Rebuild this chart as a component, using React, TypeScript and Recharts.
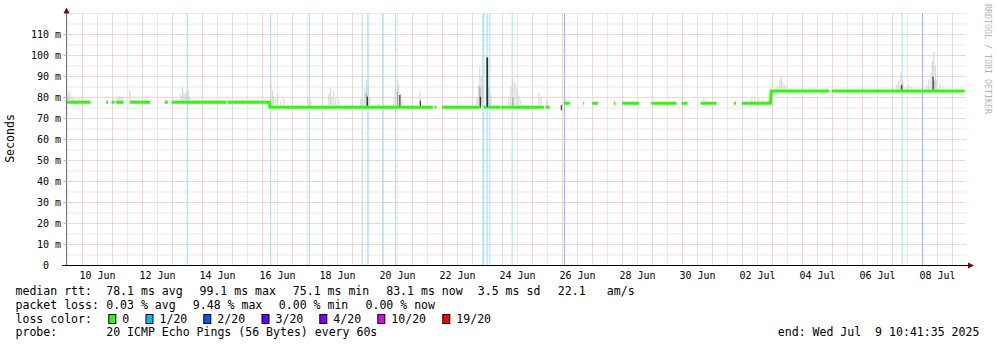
import React from "react";
import {
  ComposedChart,
  Line,
  XAxis,
  YAxis,
  CartesianGrid,
  ReferenceLine,
} from "recharts";

// time = days since 1 Jun 2025 00:00
const timeDomain: [number, number] = [8.4667, 38.4667];

const dayLabelTicks = [9.5, 11.5, 13.5, 15.5, 17.5, 19.5, 21.5, 23.5, 25.5, 27.5, 29.5, 31.5, 33.5, 35.5, 37.5];
const dayLabels = ["10 Jun", "12 Jun", "14 Jun", "16 Jun", "18 Jun", "20 Jun", "22 Jun", "24 Jun", "26 Jun", "28 Jun", "30 Jun", "02 Jul", "04 Jul", "06 Jul", "08 Jul"];
const rttTicks = [0, 10, 20, 30, 40, 50, 60, 70, 80, 90, 100, 110];

// median rtt (ms) held over [start, end]
const medianSegments: [number, number, number][] = [
  [8.469, 9.269, 77.7], [9.789, 9.855, 77.7], [9.969, 10.069, 77.7], [10.122, 10.369, 77.7],
  [10.579, 11.245, 77.7], [11.745, 11.845, 77.7], [11.969, 13.802, 77.7], [13.845, 15.235, 77.7],
  [15.245, 20.679, 75.3], [20.745, 20.802, 75.3], [20.988, 22.268, 75.3], [22.379, 22.479, 75.3],
  [22.522, 22.935, 75.3], [22.968, 24.379, 75.3], [24.435, 24.569, 75.3],
  [25.045, 25.245, 77.3], [25.689, 25.722, 77.3], [25.989, 26.179, 77.3], [26.712, 26.768, 77.3],
  [26.988, 27.545, 77.3], [27.955, 28.802, 77.3], [28.968, 29.168, 77.3], [29.602, 30.135, 77.3],
  [30.712, 30.779, 77.3], [30.979, 31.935, 77.3],
  [31.955, 33.879, 83.1], [33.969, 38.402, 83.1],
];

// smoke: [time, low, high]
const smokeLight: [number, number, number][] = [
  [8.479, 78.4, 83.6], [8.529, 78.4, 81.5], [8.579, 78.4, 82.8], [8.645, 78.4, 80.5], [8.712, 78.4, 79.8], [8.812, 78.4, 79.2], [8.912, 78.4, 79.5], [9.012, 78.4, 78.9],
  [10.179, 78.4, 80.2], [10.245, 78.4, 81.0], [10.312, 78.4, 80.4], [10.579, 78.4, 83.5],
  [12.279, 78.4, 81.5], [12.329, 78.4, 84.8], [12.379, 78.4, 82.5], [12.429, 78.4, 81.8], [12.479, 78.4, 82.6], [12.529, 78.4, 83.6], [12.579, 78.4, 80.5],
  [15.279, 76, 86.8], [15.329, 76, 83.5], [15.379, 76, 81], [15.445, 76, 79.5], [15.512, 76, 81.5], [15.612, 76, 78.5], [15.712, 76, 79.8], [16.212, 76, 77],
  [16.512, 76, 80], [16.562, 76, 82], [16.612, 76, 78.5],
  [17.212, 76, 82], [17.262, 76, 84.4], [17.312, 76, 80.5], [17.379, 76, 82.8], [17.445, 76, 79.5], [17.545, 76, 78.8],
  [18.279, 76, 79.5], [18.345, 76, 80.5], [18.412, 76, 84.5], [18.462, 76, 88.3], [18.529, 76, 85.5], [18.579, 76, 80], [18.879, 76, 77.5],
  [19.379, 76, 80], [19.445, 76, 84.5], [19.495, 76, 88.3], [19.545, 76, 86], [19.612, 76, 82], [19.679, 76, 78.5],
  [20.245, 76, 83],
  [22.145, 76, 80], [22.195, 76, 86], [22.245, 76, 94.7], [22.295, 76, 90], [22.345, 76, 86], [22.545, 76, 85], [22.612, 76, 81.5],
  [23.212, 76, 80], [23.279, 76, 85.5], [23.345, 76, 89.1], [23.412, 76, 87.5], [23.479, 76, 84.5], [23.545, 76, 81], [23.612, 76, 78.5],
  [24.212, 76, 82], [24.279, 76, 80.5], [24.479, 76, 78.5],
  [25.145, 78, 78.8], [29.712, 78, 79.5], [29.812, 78, 78.5],
  [31.312, 78, 80], [31.412, 78, 80.3], [31.545, 78, 79.5], [31.679, 78, 79],
  [32.179, 83.8, 85.5], [32.245, 83.8, 88.5], [32.295, 83.8, 90], [32.345, 83.8, 87], [32.412, 83.8, 86], [32.479, 83.8, 85.5], [32.579, 83.8, 84.5],
  [33.279, 83.8, 84.6], [33.379, 83.8, 85], [33.779, 83.8, 84],
  [36.145, 83.8, 86], [36.212, 83.8, 88], [36.279, 83.8, 92.3], [36.345, 83.8, 87.5], [36.445, 83.8, 85], [36.545, 83.8, 86.2], [36.645, 83.8, 85.2],
  [37.145, 83.8, 86], [37.212, 83.8, 88.5], [37.279, 83.8, 92], [37.329, 83.8, 97], [37.379, 83.8, 101.9], [37.429, 83.8, 95], [37.479, 83.8, 88.5], [37.579, 83.8, 86.5], [37.679, 83.8, 85],
];
const smokeMid: [number, number, number][] = [
  [18.463, 76, 82], [19.496, 76, 82.5], [22.246, 76, 85], [23.346, 76, 80], [36.28, 83.8, 85], [37.38, 83.8, 88],
];
const smokeDark: [number, number, number][] = [
  [18.496, 75, 80.4], [19.579, 75, 81.2], [20.262, 75, 78.5], [22.262, 75, 80.4], [22.479, 75.3, 99.1], [22.505, 75.3, 99.1],
  [24.962, 73.8, 76.5], [36.312, 83, 86], [37.352, 83, 89.9],
];

// [time, lost pings out of 20]
const lossEvents: [number, number][] = [
  [12.489, 1], [15.269, 1], [16.569, 1], [18.322, 1], [18.522, 1], [19.022, 1], [19.435, 1],
  [22.345, 1], [22.378, 1], [22.489, 1], [22.579, 1], [23.322, 1], [25.067, 2], [36.322, 1], [37.0, 2],
];

const lossLabels = ["0", "1/20", "2/20", "3/20", "4/20", "10/20", "19/20"];
const lossColors = ["#26ff00", "#00b8ff", "#0059ff", "#5e00ff", "#7e00ff", "#dd00ff", "#ff0000"];
// faded versions used for the full-height loss markers
const lossShades = ["#ffffff", "#a2e0f8", "#8fb6ff"];

const rttStats = ["78.1 ms avg", "99.1 ms max", "75.1 ms min", "83.1 ms now", "3.5 ms sd", "22.1", "am/s"];
const lossStats = ["0.03 % avg", "9.48 % max", "0.00 % min", "0.00 % now"];
const probeText = "20 ICMP Echo Pings (56 Bytes) every 60s";
const endText = "end: Wed Jul  9 10:41:35 2025";

const midnights = Array.from({ length: 30 }, (_, i) => 9 + i);
const noons = Array.from({ length: 30 }, (_, i) => 8.5 + i);
const majorRtt = [10, 20, 30, 40, 50, 60, 70, 80, 90, 100, 110];
const minorRtt = [5, 15, 25, 35, 45, 55, 65, 75, 85, 95, 105, 115, 120];

const medianData: { t: number; v: number | null }[] = [];
medianSegments.forEach(([a, b, v], i) => {
  const prev = medianSegments[i - 1];
  if (prev && a - prev[1] > 0.03) medianData.push({ t: (a + prev[1]) / 2, v: null });
  medianData.push({ t: a, v }, { t: b, v });
});

const smokeLayers: { spikes: [number, number, number][]; color: string }[] = [
  { spikes: smokeLight, color: "#d0d0d0" },
  { spikes: smokeMid, color: "#9a9a9a" },
  { spikes: smokeDark, color: "#1e1e1e" },
];

const FONT = "DejaVu Sans Mono";
const rttX = [106.7, 200, 293.3, 386.7, 478.3, 558.3, 607.3];
const lossX = [106.7, 193.3, 279.3, 366];
const boxX = [108.3, 145.5, 203.3, 261.5, 319.3, 377.3, 442.3];

const App = () => {
  const txt = { fontFamily: FONT, fontSize: 11.55, fill: "#000", whiteSpace: "pre" as const };
  return (
    <div style={{ position: "absolute", left: 0, top: 0, width: 997, height: 347, background: "#fff" }}>
      <ComposedChart
        width={997}
        height={290}
        data={medianData}
        margin={{ top: 13.5, right: 30.5, left: 0, bottom: 4.5 }}
      >
        <CartesianGrid horizontalValues={minorRtt} verticalValues={noons} stroke="#d2d2d2" strokeDasharray="1 1" />
        <CartesianGrid horizontalValues={majorRtt} verticalValues={midnights} stroke="#eaa8a8" strokeDasharray="1 1" />
        <XAxis
          type="number"
          dataKey="t"
          domain={timeDomain}
          allowDataOverflow
          ticks={dayLabelTicks}
          interval={0}
          tickFormatter={(v: number) => dayLabels[dayLabelTicks.indexOf(v)] ?? ""}
          tick={{ fontFamily: FONT, fontSize: 10, fill: "#000" }}
          tickLine={false}
          tickSize={4}
          tickMargin={2}
          height={20}
          axisLine={{ stroke: "#000" }}
        />
        <YAxis
          type="number"
          domain={[0, 120]}
          ticks={rttTicks}
          interval={0}
          width={66.5}
          tickFormatter={(v: number) => (v === 0 ? "0\u00a0\u00a0" : `${v} m`)}
          tick={{ fontFamily: FONT, fontSize: 10, fill: "#000" }}
          tickLine={{ stroke: "#e0a0a0" }}
          tickSize={3}
          tickMargin={2.5}
          axisLine={{ stroke: "#777" }}
        />
        {lossEvents.map(([t, n], i) => (
          <ReferenceLine key={`loss${i}`} x={t} stroke={lossShades[Math.min(n, 2)]} strokeWidth={1} />
        ))}
        {smokeLayers.map((layer, li) =>
          layer.spikes.map(([t, lo, hi], i) => (
            <ReferenceLine
              key={`smoke${li}-${i}`}
              segment={[{ x: t, y: lo }, { x: t, y: hi }]}
              stroke={layer.color}
              strokeWidth={1}
            />
          ))
        )}
        <Line
          dataKey="v"
          type="linear"
          stroke={lossColors[0]}
          strokeWidth={3}
          strokeLinecap="butt"
          dot={false}
          activeDot={false}
          connectNulls={false}
          isAnimationActive={false}
        />
      </ComposedChart>
      <svg
        width={997}
        height={347}
        style={{ position: "absolute", left: 0, top: 0, pointerEvents: "none" }}
      >
        <line x1={62} y1={265.5} x2={67} y2={265.5} stroke="#000" />
        <line x1={966} y1={265.5} x2={969} y2={265.5} stroke="#000" />
        <polygon points="968,262.5 974,265.5 968,268.5" fill="#7f0000" />
        <polygon points="63.5,13.5 66.5,7.5 69.5,13.5" fill="#7f0000" />
        <text
          x={13.5}
          y={138.5}
          transform="rotate(-90 13.5 138.5)"
          textAnchor="middle"
          style={{ fontFamily: FONT, fontSize: 11.55, fill: "#000" }}
        >
          Seconds
        </text>
        <text
          x={984.5}
          y={4}
          transform="rotate(90 984.5 4)"
          style={{ fontFamily: FONT, fontSize: 8.3, fill: "#b4b4b4" }}
        >
          RRDTOOL / TOBI OETIKER
        </text>

        <text x={15.5} y={295.3} style={txt}>median rtt:</text>
        {rttStats.map((s, i) => (
          <text key={i} x={rttX[i] - 0.5} y={295.3} style={txt}>{s}</text>
        ))}
        <text x={15.5} y={309} style={txt}>packet loss:</text>
        {lossStats.map((s, i) => (
          <text key={i} x={lossX[i] - 0.5} y={309} style={txt}>{s}</text>
        ))}
        <text x={15.5} y={322.7} style={txt}>loss color:</text>
        {lossLabels.map((s, i) => (
          <g key={i}>
            <rect x={boxX[i] + 0.5} y={314.5} width={7} height={9} fill={lossColors[i]} stroke="#000" />
            <text x={boxX[i] + 14} y={322.7} style={txt}>{s}</text>
          </g>
        ))}
        <text x={15.5} y={336.4} style={txt}>probe:</text>
        <text x={106.2} y={336.4} style={txt}>{probeText}</text>
        <text x={777.8} y={336.4} style={txt}>{endText}</text>
      </svg>
    </div>
  );
};

export default App;
